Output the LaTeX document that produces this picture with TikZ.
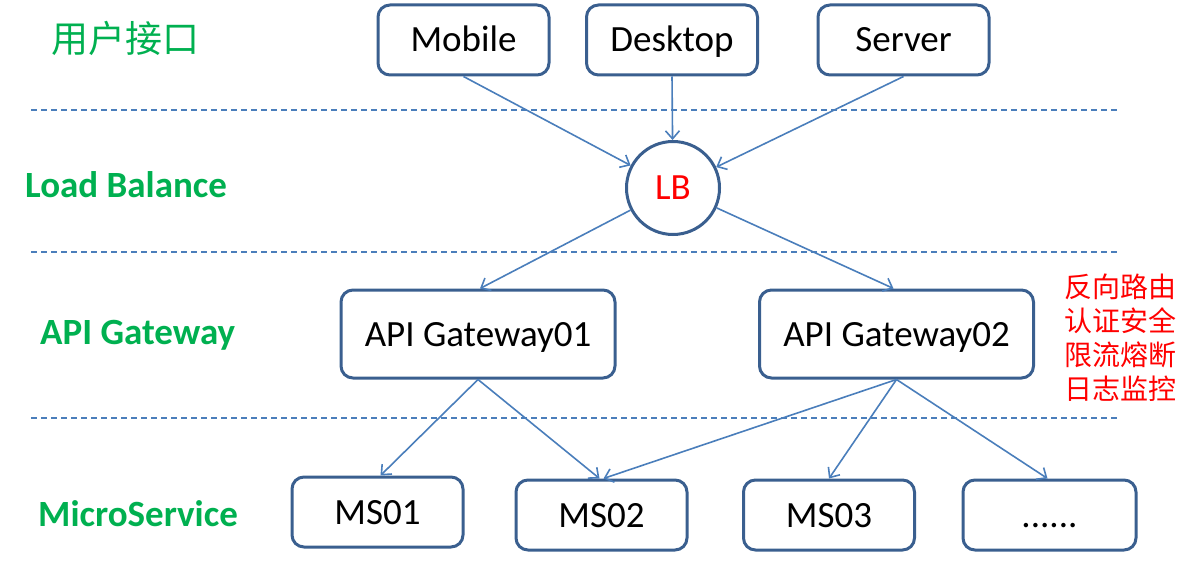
\documentclass[tikz,border=0pt]{standalone}
\usepackage{fontspec}
\setmainfont{Carlito}
\newfontfamily\cjk{Noto Sans CJK SC}
\usetikzlibrary{arrows.meta}
\definecolor{boxblue}{HTML}{3A5F8F}
\definecolor{lineblue}{HTML}{4A7EBB}
\definecolor{labgreen}{HTML}{00B050}
\begin{document}
\begin{tikzpicture}[x=1pt,y=-1pt,
  box/.style={draw=boxblue,line width=3pt,rounded corners=12pt,minimum width=#1,minimum height=70pt,font=\fontsize{37}{42}\selectfont,inner sep=0pt,text height=24pt,text depth=0pt},
  box/.default=171pt,
  gw/.style={box=274pt,minimum height=88pt},
  lbl/.style={text=labgreen,font=\fontsize{37}{42}\selectfont\bfseries,inner sep=0pt},
  sep/.style={draw=lineblue,line width=2pt,dash pattern=on 6pt off 4pt},
  conn/.style={draw=lineblue,line width=1.6pt,-{Straight Barb[length=8pt,width=14pt,line width=1.6pt]}},
  redtxt/.style={text=red,font=\cjk\fontsize{28}{34}\selectfont,align=left,inner sep=0pt}]
\useasboundingbox (0,0) rectangle (1201,561);
% separators
\coordinate (s1a) at (31,110); \coordinate (s1b) at (1117,110);
\coordinate (s2a) at (31,252); \coordinate (s2b) at (1117,252);
\coordinate (s3a) at (31,418); \coordinate (s3b) at (1117,418);
\draw[sep] (s1a) -- (s1b);
\draw[sep] (s2a) -- (s2b);
\draw[sep] (s3a) -- (s3b);
% layer labels
\node[text=labgreen,font=\cjk\fontsize{37}{42}\selectfont,inner sep=0pt,anchor=west] (l1) at (51,38) {用户接口};
\node[lbl,anchor=west] (l2) at (25,185) {Load Balance};
\node[lbl,anchor=west] (l3) at (40,335) {API Gateway};
\node[lbl,anchor=west] (l4) at (38,514) {MicroService};
% nodes
\node[box] (mobile) at (463.5,40) {Mobile};
\node[box] (desktop) at (672,40) {Desktop};
\node[box] (server) at (903.5,40) {Server};
\node[circle,draw=boxblue,line width=3pt,minimum size=93pt,inner sep=0pt,text=red,font=\fontsize{37}{42}\selectfont,text height=24pt,text depth=0pt] (lb) at (673,188) {LB};
\node[gw] (gw1) at (478,334) {API Gateway01};
\node[gw] (gw2) at (896.5,334) {API Gateway02};
\node[box] (ms1) at (377.5,512) {MS01};
\node[box] (ms2) at (601.5,515) {MS02};
\node[box] (ms3) at (829,515) {MS03};
\node[box=173pt] (ms4) at (1049.5,515) {......};
\node[redtxt,anchor=north west] (note) at (1064,274) {反向路由\\认证安全\\限流熔断\\日志监控};
% connectors
\draw[conn] (mobile.south) -- (lb);
\draw[conn] (desktop.south) -- (lb);
\draw[conn] (server.south) -- (lb);
\draw[conn] (lb) -- ([xshift=2pt]gw1.north);
\draw[conn] (lb) -- ([xshift=-3pt]gw2.north);
\draw[conn] (gw1.south) -- ([xshift=3pt]ms1.north);
\draw[conn] (gw1.south) -- ([xshift=-2pt]ms2.north);
\draw[conn] (gw2.south) -- ([xshift=2pt]ms2.north);
\draw[conn] (gw2.south) -- (ms3.north);
\draw[conn] (gw2.south) -- ([xshift=-2pt]ms4.north);
\end{tikzpicture}
\end{document}
